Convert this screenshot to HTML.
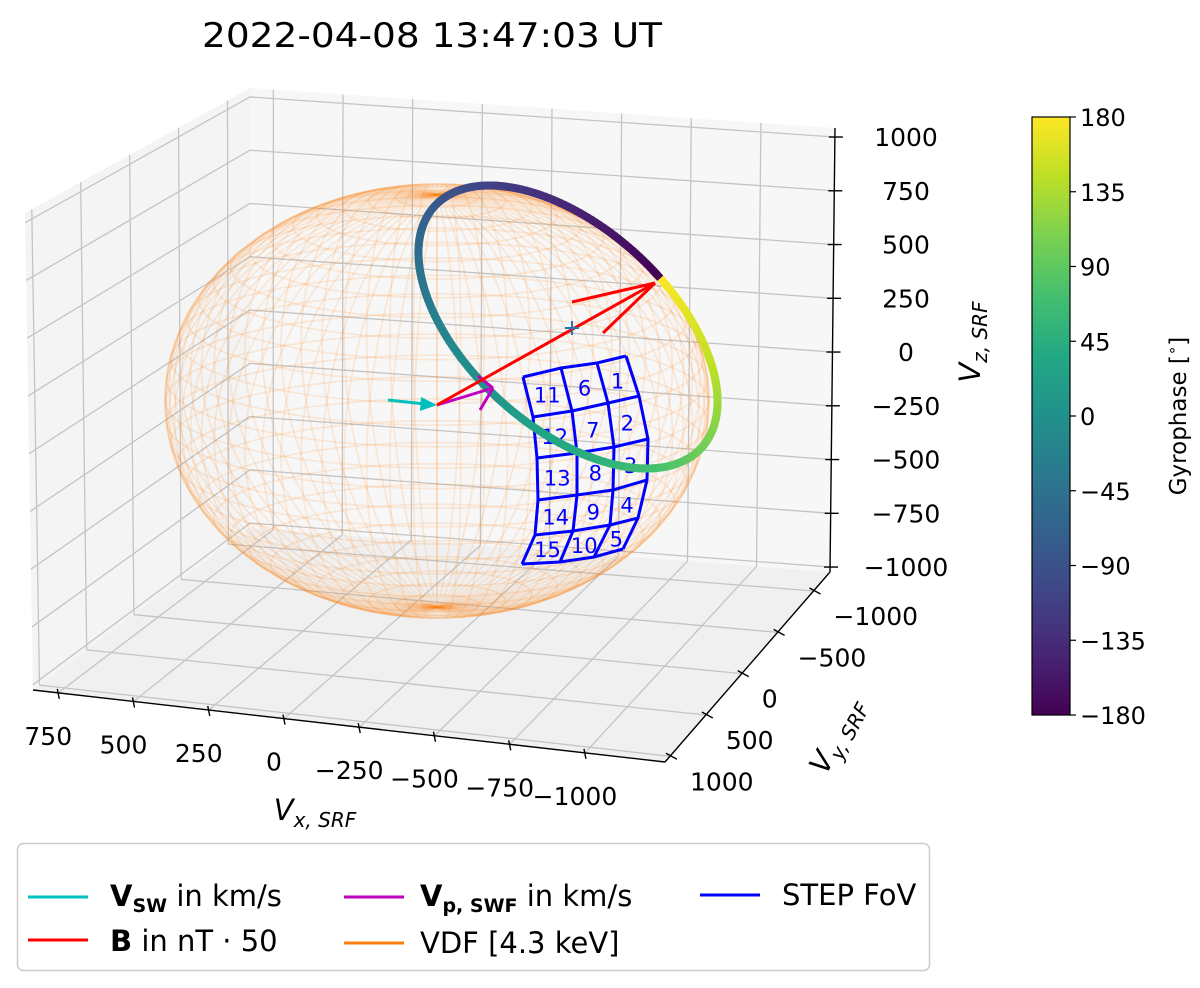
<!DOCTYPE html>
<html><head><meta charset="utf-8"><style>
html,body{margin:0;padding:0;background:#fff;}
svg{display:block;font-family:"DejaVu Sans","Liberation Sans",sans-serif;}
</style></head><body>
<svg id="chart" width="1200" height="988" viewBox="0 0 1200 988" xmlns="http://www.w3.org/2000/svg">
<defs>
<linearGradient id="vir" x1="0" y1="1" x2="0" y2="0">
<stop offset="0" stop-color="#440154"/><stop offset="0.1" stop-color="#482475"/><stop offset="0.2" stop-color="#414487"/><stop offset="0.3" stop-color="#355f8d"/><stop offset="0.4" stop-color="#2a788e"/><stop offset="0.5" stop-color="#21918c"/><stop offset="0.6" stop-color="#22a884"/><stop offset="0.7" stop-color="#44bf70"/><stop offset="0.8" stop-color="#7ad151"/><stop offset="0.9" stop-color="#bddf26"/><stop offset="1" stop-color="#fde725"/>
</linearGradient>
</defs>
<text x="432" y="47" font-size="34" text-anchor="middle" textLength="460" lengthAdjust="spacingAndGlyphs">2022-04-08 13:47:03 UT</text>
<g id="panes"></g>
<g id="grid"></g>
<g id="sphere"></g>
<g id="fov"></g>
<g id="ring"></g>
<g id="vectors"></g>
<g id="axes"></g>
<text transform="translate(980,342) rotate(-90)" font-size="29" font-style="italic" text-anchor="middle">V<tspan font-size="20" dy="7">z, SRF</tspan></text>
<text x="315" y="820" font-size="29" font-style="italic" text-anchor="middle">V<tspan font-size="20" dy="7">x, SRF</tspan></text>
<text transform="translate(845,740) rotate(-62)" font-size="29" font-style="italic" text-anchor="middle">V<tspan font-size="20" dy="7">y, SRF</tspan></text>
<g id="cbar">
<rect x="1032" y="117" width="38" height="598" fill="url(#vir)" stroke="#000" stroke-width="1.2"/>
</g>
<text transform="translate(1186,416) rotate(-90)" font-size="23" text-anchor="middle">Gyrophase [<tspan font-size="15" dy="-9">∘</tspan><tspan dy="9">]</tspan></text>
<g>
<rect x="17.5" y="843.5" width="912" height="127" rx="6" fill="#fff" stroke="#ccc" stroke-width="1.5"/>
<line x1="28" y1="897" x2="88" y2="897" stroke="#00bfbf" stroke-width="3"/>
<text x="110" y="906" font-size="29"><tspan font-weight="bold">V</tspan><tspan font-weight="bold" font-size="19" dy="6">SW</tspan><tspan dy="-6"> in km/s</tspan></text>
<line x1="28" y1="940" x2="88" y2="940" stroke="#ff0000" stroke-width="3"/>
<text x="110" y="951" font-size="29"><tspan font-weight="bold">B</tspan> in nT · 50</text>
<line x1="344" y1="897" x2="404" y2="897" stroke="#bf00bf" stroke-width="3"/>
<text x="420" y="906" font-size="29"><tspan font-weight="bold">V</tspan><tspan font-weight="bold" font-size="19" dy="6">p, SWF</tspan><tspan dy="-6"> in km/s</tspan></text>
<line x1="344" y1="943" x2="404" y2="943" stroke="#ff7f0e" stroke-width="3"/>
<text x="420" y="953" font-size="29">VDF [4.3 keV]</text>
<line x1="700" y1="895" x2="760" y2="895" stroke="#0000ff" stroke-width="3"/>
<text x="782" y="905" font-size="29">STEP FoV</text>
</g>
</svg>
<script>
const xTicks = [750, 500, 250, 0, -250, -500, -750, -1000];
const yTicks = [-1000, -500, 0, 500, 1000];
const zTicks = [1000, 750, 500, 250, 0, -250, -500, -750, -1000];
const cbarTicks = [180, 135, 90, 45, 0, -45, -90, -135, -180];
const fovLabels = [[11, 6, 1], [12, 7, 2], [13, 8, 3], [14, 9, 4], [15, 10, 5]];
const phaseRange = [-180, 180];

const NS = 'http://www.w3.org/2000/svg';
function mk(tag, attrs, parent){const e=document.createElementNS(NS,tag);for(const k in attrs)e.setAttribute(k,attrs[k]);parent.appendChild(e);return e;}
const C={b000:[250,528],b100:[830,572],b010:[33,690],b110:[665,762],t000:[250,88],t100:[835,128],t010:[25,213],t110:[662,281]};
function bil(p00,p10,p01,p11,a,b){return [p00[0]*(1-a)*(1-b)+p10[0]*a*(1-b)+p01[0]*(1-a)*b+p11[0]*a*b, p00[1]*(1-a)*(1-b)+p10[1]*a*(1-b)+p01[1]*(1-a)*b+p11[1]*a*b];}
function P(a,b,c){const lo=bil(C.b000,C.b100,C.b010,C.b110,a,b),hi=bil(C.t000,C.t100,C.t010,C.t110,a,b);return [lo[0]*(1-c)+hi[0]*c, lo[1]*(1-c)+hi[1]*c];}
const ax = v => (834 - v)/2100;
const byf = v => (v + 1230)/2299;
const cz = v => (v + 1023)/2065;
const panes=document.getElementById('panes'),grid=document.getElementById('grid');
function poly(pts,attrs,parent){attrs.points=pts.map(p=>p[0].toFixed(1)+','+p[1].toFixed(1)).join(' ');return mk('polygon',attrs,parent);}
let e;
e=poly([P(0,0,0),P(1,0,0),P(1,0,1),P(0,0,1)],{fill:'#f7f7f7'},panes);

e=poly([P(0,0,0),P(0,1,0),P(0,1,1),P(0,0,1)],{fill:'#f4f4f4'},panes);

e=poly([P(0,0,0),P(1,0,0),P(1,1,0),P(0,1,0)],{fill:'#f0f0f0'},panes);

function gl(p,q){const l=mk('line',{x1:p[0],y1:p[1],x2:q[0],y2:q[1],stroke:'#c4c4c4','stroke-width':1.3},grid);

}
xTicks.forEach(v=>{const a=ax(v);gl(P(a,0,0),P(a,0,1));gl(P(a,0,0),P(a,1,0));});
yTicks.forEach(v=>{const b=byf(v);gl(P(0,b,0),P(0,b,1));gl(P(0,b,0),P(1,b,0));});
zTicks.forEach(v=>{const c=cz(v);gl(P(0,0,c),P(1,0,c));gl(P(0,0,c),P(0,1,c));});

const axes=document.getElementById('axes');
function al(p,q,name){const l=mk('line',{x1:p[0],y1:p[1],x2:q[0],y2:q[1],stroke:'#000','stroke-width':1.4},axes);

}
al(P(0,1,0),P(1,1,0),'x-axis-line');al(P(1,1,0),P(1,0,0),'y-axis-line');al(P(1,0,0),P(1,0,1),'z-axis-line');
xTicks.forEach((v,i)=>{const p=P(ax(v),1,0);al([p[0]-1,p[1]-4],[p[0]+1,p[1]+6],'x-tick');
const t=mk('text',{x:p[0]-10,y:p[1]+52,'font-size':25,'text-anchor':'middle'},axes);t.textContent=(v<0?'−'+(-v):v);

});
yTicks.forEach(v=>{const p=P(1,byf(v),0);al([p[0]-4,p[1]-3],[p[0]+7,p[1]+3],'y-tick');
const t=mk('text',{x:p[0]+20,y:p[1]+34,'font-size':25,'text-anchor':'start'},axes);t.textContent=(v<0?'−'+(-v):v);

});
zTicks.forEach(v=>{const p=P(1,0,cz(v));al([p[0]-6,p[1]],[p[0]+8,p[1]],'z-tick');
const t=mk('text',{x:906,y:p[1]+9,'font-size':25,'text-anchor':'middle'},axes);t.textContent=(v<0?'−'+(-v):v);

});

const sph=document.getElementById('sphere');
const cx=437,cy=401,rx=272,ry=217,el=18*Math.PI/180,az=30*Math.PI/180;
function sp(lat,lon){const X=Math.cos(lat)*Math.cos(lon),Y=Math.cos(lat)*Math.sin(lon),Z=Math.sin(lat);
const xp=X*Math.cos(az)-Y*Math.sin(az),d=X*Math.sin(az)+Y*Math.cos(az);
return [cx+rx*xp, cy-ry*(Z*Math.cos(el)+d*Math.sin(el))];}
function path(pts){return pts.map((p,i)=>(i?'L':'M')+p[0].toFixed(1)+' '+p[1].toFixed(1)).join('');}
for(let lo=0;lo<360;lo+=5){const pts=[];for(let la=-90;la<=90;la+=5)pts.push(sp(la*Math.PI/180,lo*Math.PI/180));
const m=mk('path',{d:path(pts),fill:'none',stroke:'#ff7f0e','stroke-opacity':0.14,'stroke-width':1.7},sph);

}
for(let la=-87;la<=87;la+=5.8){const pts=[];for(let lo=0;lo<=360;lo+=6)pts.push(sp(la*Math.PI/180,lo*Math.PI/180));
const m=mk('path',{d:path(pts),fill:'none',stroke:'#ff7f0e','stroke-opacity':0.14,'stroke-width':1.7},sph);

}
e=mk('ellipse',{cx:cx,cy:cy,rx:rx,ry:ry,fill:'none',stroke:'#ff7f0e','stroke-opacity':0.15,'stroke-width':2},sph);


const fov=document.getElementById('fov');
const rows=[[[523,377],[561,368],[597,363],[626,356]],[[533,417],[572,411],[608,403],[639,396]],[[537,458],[577,453],[614,447],[648,439]],[[538,500],[577,495],[613,490],[647,480]],[[535,535],[573,531],[610,525],[638,518]],[[522,564],[560,562],[594,557],[623,549]]];
rows.forEach(r=>{const m=mk('path',{d:path(r),fill:'none',stroke:'#0000ff','stroke-width':3},fov);
});
for(let j=0;j<4;j++){const m=mk('path',{d:path(rows.map(r=>r[j])),fill:'none',stroke:'#0000ff','stroke-width':3},fov);
}
fovLabels.forEach((row,i)=>row.forEach((n,j)=>{const q=[rows[i][j],rows[i][j+1],rows[i+1][j],rows[i+1][j+1]];
const x=(q[0][0]+q[1][0]+q[2][0]+q[3][0])/4,y=(q[0][1]+q[1][1]+q[2][1]+q[3][1])/4;
const t=mk('text',{x:x,y:y+9,'font-size':21,fill:'#0000ff','text-anchor':'middle'},fov);t.textContent=n;
}));

const vstops=['#440154','#482475','#414487','#355f8d','#2a788e','#21918c','#22a884','#44bf70','#7ad151','#bddf26','#fde725'];
function hex(h){return [1,3,5].map(i=>parseInt(h.substr(i,2),16));}
function vir(s){s=Math.max(0,Math.min(1,s))*10;const i=Math.min(9,Math.floor(s)),f=s-i;const a=hex(vstops[i]),b=hex(vstops[i+1]);return 'rgb('+a.map((v,k)=>Math.round(v+(b[k]-v)*f)).join(',')+')';}

const ring=document.getElementById('ring');
const rc=[568,327],ra=180,rb=100,rang=42*Math.PI/180;
function rp(t){const u=ra*Math.cos(t),v=rb*Math.sin(t);return [rc[0]+u*Math.cos(rang)-v*Math.sin(rang), rc[1]+u*Math.sin(rang)+v*Math.cos(rang)];}
const J=[655,283];let t0=0,best=1e9;for(let t=0;t<6.283;t+=0.002){const p=rp(t),d=(p[0]-J[0])**2+(p[1]-J[1])**2;if(d<best){best=d;t0=t;}}
const dir=(rp(t0+0.05)[0]<rp(t0)[0])?1:-1;
const N=240;
for(let i=0;i<N;i++){const s0=i/N,s1=(i+1.6)/N;const p=rp(t0+dir*s0*2*Math.PI),q=rp(t0+dir*Math.min(1,s1)*2*Math.PI);
const ph=phaseRange[0]+(phaseRange[1]-phaseRange[0])*(i+0.5)/N;
const l=mk('line',{x1:p[0],y1:p[1],x2:q[0],y2:q[1],stroke:vir((ph-phaseRange[0])/(phaseRange[1]-phaseRange[0])),'stroke-width':8,'stroke-linecap':'butt'},ring);

}

const vec=document.getElementById('vectors');
function ln(p,q,c,w,name){const l=mk('line',{x1:p[0],y1:p[1],x2:q[0],y2:q[1],stroke:c,'stroke-width':w},vec);

}
const O=[437,405];
ln([388,400],[425,404],'#00bfbf',3,'vsw-arrow-shaft');
e=mk('polygon',{points:'437,405 421,397 420,411',fill:'#00bfbf'},vec);
ln(O,[493,388],'#bf00bf',3,'vp-arrow-shaft');ln([493,388],[478,376],'#bf00bf',3,'vp-arrow-head');ln([493,388],[480,410],'#bf00bf',3,'vp-arrow-head');
ln(O,J,'#ff0000',3,'b-arrow-shaft');ln(J,[572,302],'#ff0000',3,'b-arrow-head');ln(J,[603,333],'#ff0000',3,'b-arrow-head');
ln([565,328],[579,328],'#1f77b4',2,'center-marker');ln([572,321],[572,335],'#1f77b4',2,'center-marker');

const cb=document.getElementById('cbar');
cbarTicks.forEach((v,i)=>{const y=117+598*(180-v)/360;
const l=mk('line',{x1:1070,y1:y,x2:1076,y2:y,stroke:'#000','stroke-width':1.2},cb);

const t=mk('text',{x:1080,y:y+9,'font-size':24},cb);t.textContent=(v<0?'−'+(-v):v);
});
</script>
</body></html>
